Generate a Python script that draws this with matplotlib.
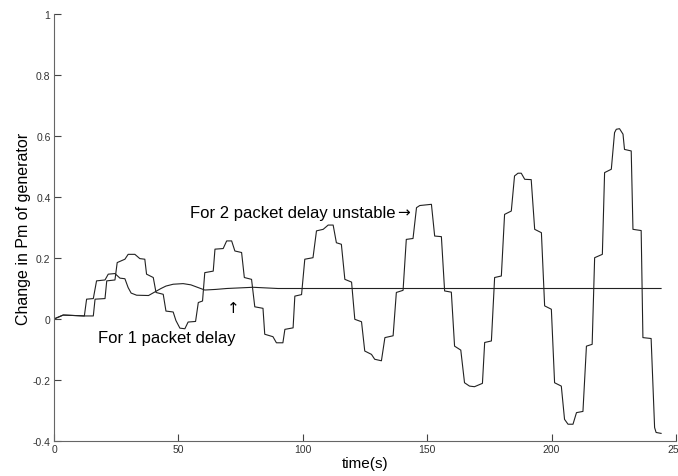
import matplotlib
matplotlib.use('Agg')
import matplotlib.pyplot as plt

plt.rcParams['font.family'] = ['Liberation Sans', 'DejaVu Sans']

# 2 packet delay (unstable, growing oscillation)
t2 = [0, 3.7, 12, 15.8, 16.5, 20.5, 21.2, 24.5, 25.4, 28.5, 29.8, 32.5, 34.5, 36.5,
      37.2, 39.9, 41, 43.9, 45, 47.9, 49, 50.6, 52.6, 53.9, 56.9, 58, 59.7, 60.6,
      64, 64.7, 68, 69.4, 71.4, 72.7, 75.4, 76.5, 79.4, 80.7, 84, 84.7, 88, 89.4,
      92, 92.8, 96.1, 96.8, 99.5, 100.8, 104.1, 105.5, 108.2, 110.2, 112.2, 113.5,
      115.5, 116.9, 119.6, 120.9, 123.6, 124.9, 127.6, 128.9, 131.6, 133, 136.3,
      137.6, 140.3, 141.6, 144.3, 145.7, 147, 151.7, 153, 155.7, 157, 159.7, 161,
      163.5, 165, 167, 169, 172.2, 173.1, 175.8, 177.1, 179.8, 181.1, 183.8, 185.1,
      186.5, 187.8, 189.2, 191.8, 193.2, 195.9, 197.2, 199.9, 201.2, 203.9, 205.2,
      206.6, 208.6, 210, 212.6, 214, 216.3, 217.3, 220.4, 221.3, 224, 225.3, 226,
      227.3, 228.7, 229.3, 232, 232.7, 236, 236.7, 240, 241.4, 242, 244]
y2 = [0, 0.013, 0.01, 0.01, 0.065, 0.067, 0.125, 0.128, 0.185, 0.196, 0.212, 0.212,
      0.198, 0.196, 0.147, 0.136, 0.087, 0.081, 0.026, 0.023, -0.005, -0.03, -0.032,
      -0.01, -0.008, 0.054, 0.059, 0.152, 0.157, 0.229, 0.231, 0.256, 0.256, 0.223,
      0.218, 0.136, 0.13, 0.04, 0.035, -0.05, -0.058, -0.078, -0.078, -0.034, -0.029,
      0.075, 0.08, 0.196, 0.201, 0.289, 0.294, 0.308, 0.308, 0.25, 0.245, 0.13, 0.121,
      -0.001, -0.009, -0.105, -0.116, -0.132, -0.137, -0.061, -0.055, 0.087, 0.094,
      0.261, 0.264, 0.365, 0.372, 0.376, 0.272, 0.27, 0.092, 0.088, -0.089, -0.102,
      -0.209, -0.22, -0.222, -0.211, -0.077, -0.072, 0.136, 0.141, 0.343, 0.354,
      0.469, 0.478, 0.478, 0.458, 0.457, 0.294, 0.283, 0.043, 0.032, -0.209, -0.22,
      -0.329, -0.345, -0.345, -0.307, -0.303, -0.089, -0.083, 0.201, 0.212, 0.48,
      0.491, 0.611, 0.622, 0.624, 0.606, 0.556, 0.551, 0.294, 0.29, -0.061, -0.064,
      -0.356, -0.372, -0.375]

# 1 packet delay (settles at 0.1)
t1 = [0, 3.7, 12.2, 13.1, 15.8, 17.1, 20.5, 21.8, 24.5, 26.5, 28.5, 29.8, 31, 33.2,
      38, 40.6, 43, 45, 47.9, 51.9, 55, 57.3, 60.6, 65, 69.4, 80, 90, 100, 244]
y1 = [0, 0.013, 0.01, 0.065, 0.067, 0.125, 0.128, 0.147, 0.149, 0.134, 0.132, 0.103,
      0.085, 0.078, 0.077, 0.089, 0.1, 0.108, 0.114, 0.116, 0.112, 0.105, 0.095,
      0.097, 0.1, 0.104, 0.1, 0.1, 0.1]

xticks = [0, 50, 100, 150, 200, 250]
yticks = [-0.4, -0.2, 0, 0.2, 0.4, 0.6, 0.8, 1]
ytick_labels = ['-0.4', '-0.2', '0', '0.2', '0.4', '0.6', '0.8', '1']

fig = plt.figure(figsize=(6.78, 4.77), dpi=100)
ax = fig.add_axes([54 / 678, 35 / 477, 622 / 678, 427 / 477])

ax.plot(t2, y2, color='#222222', lw=0.8)
ax.plot(t1, y1, color='#222222', lw=0.8)

ax.set_xlim(0, 250)
ax.set_ylim(-0.4, 1)
ax.set_xticks(xticks)
ax.set_xticklabels([str(v) for v in xticks])
ax.set_yticks(yticks)
ax.set_yticklabels(ytick_labels)

for s in ['top', 'right']:
    ax.spines[s].set_visible(False)
for s in ['left', 'bottom']:
    ax.spines[s].set_color('#666666')
ax.tick_params(direction='in', length=5, width=0.8, color='#444444',
               labelsize=7.5, labelcolor='#333333', pad=2.5)

ax.set_xlabel('time(s)', fontsize=11, labelpad=1)
ax.set_ylabel('Change in Pm of generator', fontsize=11.5, labelpad=1)

ax.text(54.6, 0.35, 'For 2 packet delay unstable', fontsize=12, va='center')
ax.text(137.9, 0.352, '\u2192', fontsize=11, va='center', ha='left',
        family='DejaVu Sans')
ax.text(17.7, -0.06, 'For 1 packet delay', fontsize=12, va='center')
ax.text(71.9, 0.038, '\u2191', fontsize=11, va='center', ha='center',
        family='DejaVu Sans')

fig.savefig('out.png', dpi=100)
